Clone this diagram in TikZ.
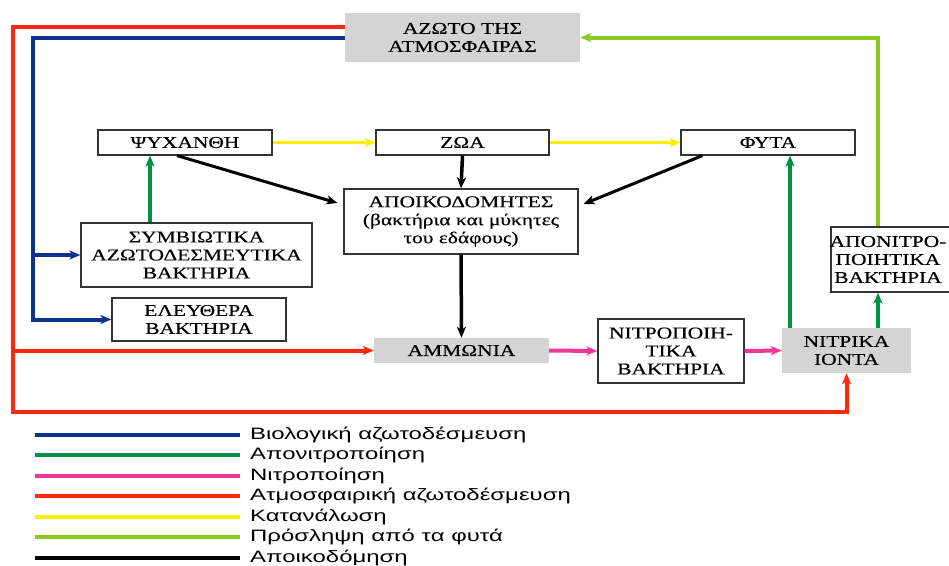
\documentclass[tikz,border=0pt]{standalone}
\usepackage{fontspec}
\setmainfont{Liberation Serif}
\newfontfamily\boxfont[FakeStretch=1.3,FakeBold=0.4]{Liberation Serif}
\newfontfamily\legfont[FakeStretch=1.45]{Liberation Sans}
\usetikzlibrary{arrows.meta,calc}
\definecolor{cblue}{RGB}{15,50,145}
\definecolor{cgreen}{RGB}{0,145,70}
\definecolor{cpink}{RGB}{240,55,150}
\definecolor{cred}{RGB}{255,40,15}
\definecolor{cyellow}{RGB}{250,240,0}
\definecolor{clgreen}{RGB}{140,200,35}
\definecolor{boxgray}{RGB}{212,212,212}
\begin{document}
\begin{tikzpicture}[x=1pt,y=-1pt,
  bx/.style={draw=black!80,line width=1.2pt,fill=white,align=center,inner sep=0pt,
    font=\boxfont\fontsize{16.5}{18}\selectfont},
  gbx/.style={fill=boxgray,align=center,inner sep=0pt,
    font=\boxfont\fontsize{16.5}{18}\selectfont},
  btxt/.style={align=center,inner sep=0pt,font=\boxfont\fontsize{16.5}{18}\selectfont},
  tip/.style={-{Stealth[length=11pt,width=9pt,inset=3pt]}},
  fl/.style={line width=4pt},
  legtxt/.style={anchor=west,inner sep=0pt,font=\legfont\fontsize{16.5}{18}\selectfont}
]
\useasboundingbox (0,0) rectangle (949,565);

% nodes
\node[gbx,minimum width=235pt,minimum height=49pt] (atm) at (462.5,37.5) {ΑΖΩΤΟ ΤΗΣ\\ΑΤΜΟΣΦΑΙΡΑΣ};
\node[bx,minimum width=174pt,minimum height=25pt] (psy) at (185,142.5) {ΨΥΧΑΝΘΗ};
\node[bx,minimum width=173pt,minimum height=25pt] (zoa) at (462.5,142.5) {ΖΩΑ};
\node[bx,minimum width=174pt,minimum height=25pt] (fyta) at (768,142.5) {ΦΥΤΑ};
\node[bx,minimum width=234pt,minimum height=65pt] (apo) at (461,221.5) {ΑΠΟΙΚΟΔΟΜΗΤΕΣ\\(βακτήρια και μύκητες\\του εδάφους)};
\node[bx,minimum width=231pt,minimum height=64pt] (sym) at (196.5,255) {ΣΥΜΒΙΩΤΙΚΑ\\ΑΖΩΤΟΔΕΣΜΕΥΤΙΚΑ\\ΒΑΚΤΗΡΙΑ};
\node[bx,minimum width=174pt,minimum height=43pt] (ele) at (199,319.5) {ΕΛΕΥΘΕΡΑ\\ΒΑΚΤΗΡΙΑ};
\node[gbx,minimum width=175pt,minimum height=25pt] (amm) at (461.5,350.5) {ΑΜΜΩΝΙΑ};
\node[bx,minimum width=146pt,minimum height=64pt] (nitb) at (671,351) {ΝΙΤΡΟΠΟΙΗ-\\ΤΙΚΑ\\ΒΑΚΤΗΡΙΑ};
\node[gbx,minimum width=129pt,minimum height=45pt] (nitr) at (846.5,350.5) {ΝΙΤΡΙΚΑ\\ΙΟΝΤΑ};
\node[bx,minimum width=124pt,minimum height=65pt] (apon) at (893,259.5) {};
\node[btxt] (aponl) at ($(apon.center)+(-5,0)$) {ΑΠΟΝΙΤΡΟ-\\ΠΟΙΗΤΙΚΑ\\ΒΑΚΤΗΡΙΑ};

% helper coordinates
\coordinate (rtop) at (13,27);
\coordinate (rbot) at (13,412);
\coordinate (rmid) at (13,350.5);
\coordinate (bbot) at (33,319.5);
\coordinate (bmid) at (33,255);
\coordinate (lg) at (878,37.5);
\coordinate (gx) at (790,0);
\coordinate (gs) at (150,0);

% red: atmospheric fixation
\draw[fl,cred,tip] (atm.west |- rtop) -- (rtop) -- (rbot) -| (nitr.south);
\draw[fl,cred,tip] (rmid) -- (amm.west);
% blue: biological fixation
\draw[fl,cblue,tip] (atm.west) -| (bbot) -- (ele.west);
\draw[fl,cblue,tip] (bmid) -- (sym.west);
% light green: uptake
\draw[fl,clgreen,tip] (apon.north -| lg) -- (lg) -- (atm.east);
% green: denitrification
\draw[fl,cgreen,tip] (nitr.north -| lg) -- (apon.south -| lg);
\draw[fl,cgreen,tip] (nitr.north -| gx) -- (fyta.south -| gx);
\draw[fl,cgreen,tip] (sym.north -| gs) -- (psy.south -| gs);
% yellow: consumption
\draw[line width=3pt,cyellow,tip] (psy.east) -- (zoa.west);
\draw[line width=3pt,cyellow,tip] (zoa.east) -- (fyta.west);
% black: decomposition
\draw[line width=3pt,black,tip] ($(psy.south)+(-8,0)$) -- ($(apo.west)+(-6,-18.5)$);
\draw[line width=3.5pt,black,tip] (zoa.south) -- (apo.north);
\draw[line width=3pt,black,tip] ($(fyta.south west)+(22,0)$) -- ($(apo.east)+(5,-17.5)$);
\draw[line width=3.5pt,black,tip] (apo.south) -- (amm.north);
% pink: nitrification
\draw[fl,cpink,tip] (amm.east) -- (nitb.west);
\draw[fl,cpink,tip] (nitb.east) -- (nitr.west);

% legend
\foreach \c/\t/\y [count=\i] in {cblue/Βιολογική αζωτοδέσμευση/434.5, cgreen/Απονιτροποίηση/455, cpink/Νιτροποίηση/475.5, cred/Ατμοσφαιρική αζωτοδέσμευση/496, cyellow/Κατανάλωση/516.5, clgreen/Πρόσληψη από τα φυτά/537, black/Αποικοδόμηση/557.5}{
  \coordinate (la\i) at (35,\y);
  \coordinate (lb\i) at (240,\y);
  \draw[line width=4pt,\c] (la\i) -- (lb\i);
  \node[legtxt] (lt\i) at (250,\y) {\t};
}
\end{tikzpicture}
\end{document}
